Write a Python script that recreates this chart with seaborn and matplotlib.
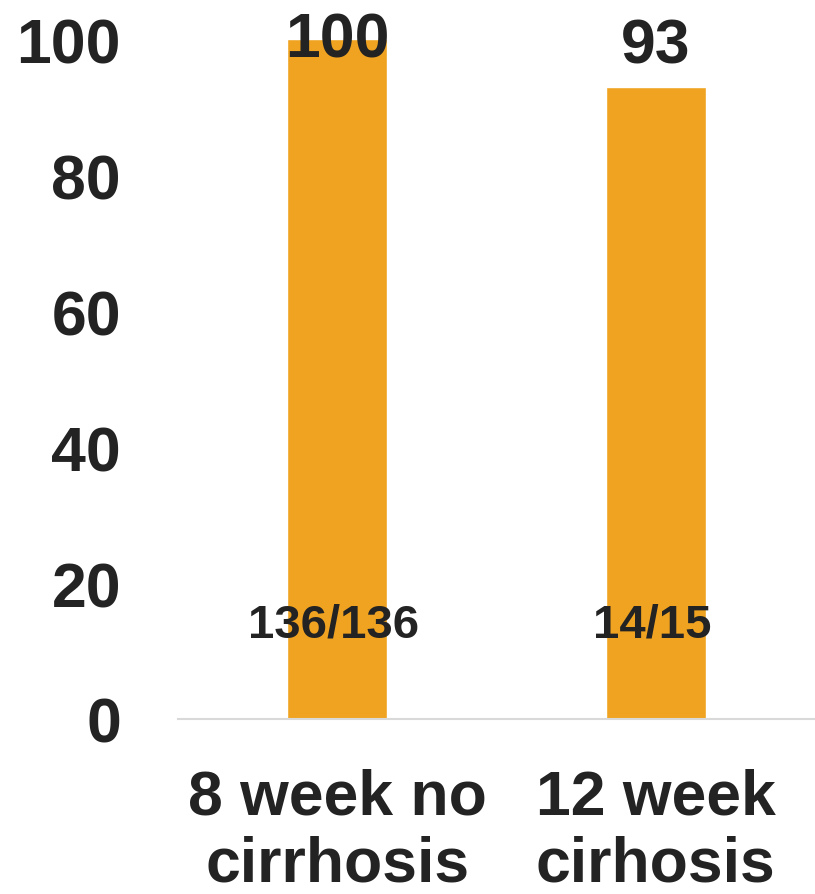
import pandas as pd
import matplotlib
matplotlib.use('Agg')
import matplotlib.pyplot as plt
import seaborn as sns

# Data
categories = ['8 week no\ncirrhosis', '12 week\ncirhosis']
svr_rates = [100, 93]
patient_counts = ['136/136', '14/15']

df = pd.DataFrame({'group': categories, 'svr': svr_rates})

sns.set_style('white')
plt.rcParams['font.family'] = ['Liberation Sans', 'DejaVu Sans']
text_color = '#232323'

fig = plt.figure(figsize=(8.15, 8.95), dpi=100)
ax = fig.add_axes([178 / 815, 175 / 895, 637 / 815, 680 / 895])

sns.barplot(data=df, x='group', y='svr', color='#F0A321', saturation=1,
            width=0.3125, ax=ax)

ax.set_xlim(-0.5, 1.5)
ax.set_ylim(0, 100)
ax.set_yticks([0, 20, 40, 60, 80, 100])
ax.set_xlabel('')
ax.set_ylabel('')

for side in ['top', 'right', 'left']:
    ax.spines[side].set_visible(False)
ax.spines['bottom'].set_color('#d9d9d9')
ax.spines['bottom'].set_linewidth(1.5)

ax.tick_params(axis='y', length=0, pad=41, labelsize=45, labelcolor=text_color)
ax.tick_params(axis='x', length=0, pad=35, labelsize=45, labelcolor=text_color)
for lab in ax.get_yticklabels() + ax.get_xticklabels():
    lab.set_fontweight('bold')
for lab in ax.get_xticklabels():
    lab.set_linespacing(1.17)

# Value labels above the bars and n/N labels inside
for i, (v, n) in enumerate(zip(svr_rates, patient_counts)):
    ax.text(i, min(v + 3.6, 97.5), str(v), ha='center', va='baseline',
            fontsize=45, fontweight='bold', color=text_color, clip_on=False)
    ax.text(i - 0.012, 12.2, n, ha='center', va='baseline',
            fontsize=34, fontweight='bold', color=text_color)

fig.savefig('out.png', dpi=100, facecolor='white')
